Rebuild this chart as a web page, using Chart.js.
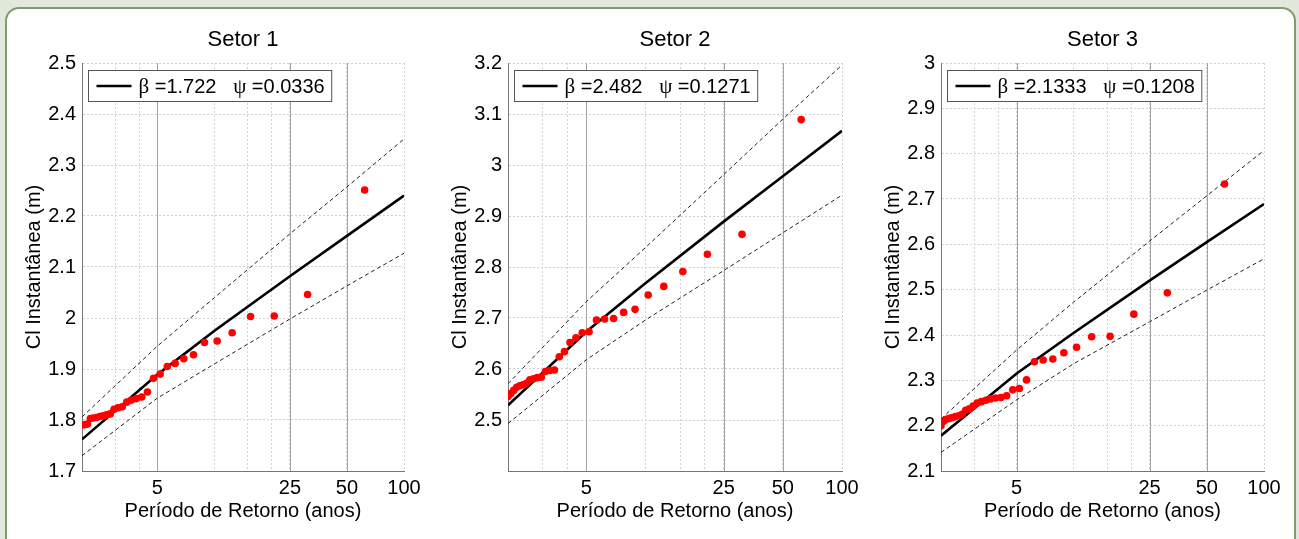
<!DOCTYPE html>
<html>
<head>
<meta charset="utf-8">
<script src="https://cdn.jsdelivr.net/npm/chart.js@4.4.1/dist/chart.umd.min.js"></script>
<style>
  html, body { margin: 0; padding: 0; }
  body { width: 1299px; height: 539px; background: #e3e8dc; position: relative; overflow: hidden; }
  #quadro { position: absolute; left: 5px; top: 7px; width: 1291px; height: 570px; background: #fff;
            border: 2px solid #7f9d6f; border-radius: 14px; box-sizing: border-box; }
  canvas { position: absolute; left: 0; top: 0; }
</style>
</head>
<body>
<div id="quadro"></div>
<canvas id="setor1" width="1299" height="539"></canvas>
<canvas id="setor2" width="1299" height="539"></canvas>
<canvas id="setor3" width="1299" height="539"></canvas>
<script>
// períodos de retorno das observações (anos)
const periodoRetorno = [62, 31, 20.67, 15.5, 12.4, 10.33, 8.857, 7.75, 6.889, 6.2, 5.636, 5.167, 4.769, 4.429,
  4.133, 3.875, 3.647, 3.444, 3.263, 3.1, 2.952, 2.818, 2.696, 2.583, 2.48, 2.385, 2.296, 2.214, 2.138, 2.067, 2.0];

// cotas observadas (m)
const obsSetor1 = [2.251, 2.046, 2.004, 2.003, 1.971, 1.955, 1.952, 1.928, 1.920, 1.911, 1.905, 1.890, 1.882, 1.855,
  1.845, 1.842, 1.839, 1.835, 1.826, 1.824, 1.821, 1.812, 1.810, 1.808, 1.807, 1.805, 1.804, 1.803, 1.792, 1.791, 1.790];
const obsSetor2 = [3.089, 2.864, 2.825, 2.791, 2.762, 2.745, 2.717, 2.711, 2.699, 2.698, 2.696, 2.673, 2.671, 2.661,
  2.652, 2.634, 2.624, 2.598, 2.597, 2.595, 2.584, 2.583, 2.581, 2.579, 2.572, 2.569, 2.567, 2.564, 2.558, 2.552, 2.546];
const obsSetor3 = [2.733, 2.493, 2.446, 2.397, 2.396, 2.373, 2.361, 2.347, 2.345, 2.341, 2.301, 2.282, 2.279, 2.266,
  2.262, 2.261, 2.259, 2.256, 2.253, 2.250, 2.243, 2.237, 2.234, 2.225, 2.222, 2.220, 2.218, 2.216, 2.214, 2.210, 2.200];

// curva ajustada e limites de confiança
const periodoAjuste = [2, 5, 10, 25, 50, 100];
const ajusteSetor1 = [1.762, 1.889, 1.975, 2.082, 2.161, 2.240];
const supSetor1 = [1.806, 1.945, 2.040, 2.165, 2.257, 2.351];
const infSetor1 = [1.730, 1.843, 1.910, 1.998, 2.063, 2.127];
const ajusteSetor2 = [2.529, 2.673, 2.768, 2.889, 2.978, 3.067];
const supSetor2 = [2.571, 2.732, 2.838, 2.981, 3.090, 3.196];
const infSetor2 = [2.493, 2.618, 2.696, 2.793, 2.867, 2.941];
const ajusteSetor3 = [2.178, 2.315, 2.405, 2.520, 2.605, 2.689];
const supSetor3 = [2.215, 2.367, 2.473, 2.607, 2.707, 2.807];
const infSetor3 = [2.141, 2.257, 2.337, 2.429, 2.499, 2.568];

// parâmetros mostrados na legenda
const betas = ["1.722", "2.482", "2.1333"];
const psis = ["0.0336", "0.1271", "0.1208"];

// eixo x
const xGrade = [3, 4, 5, 10, 15, 20, 25, 50, 100];
const xRotulos = ["", "", "5", "", "", "", "25", "50", "100"];
const xPrincipais = [5, 25, 50];

// eixos y
const yTicks1 = [1.7, 1.8, 1.9, 2.0, 2.1, 2.2, 2.3, 2.4, 2.5];
const yRotulos1 = ["1.7", "1.8", "1.9", "2", "2.1", "2.2", "2.3", "2.4", "2.5"];
const yTicks2 = [2.4, 2.5, 2.6, 2.7, 2.8, 2.9, 3.0, 3.1, 3.2];
const yRotulos2 = ["", "2.5", "2.6", "2.7", "2.8", "2.9", "3", "3.1", "3.2"];
const yTicks3 = [2.1, 2.2, 2.3, 2.4, 2.5, 2.6, 2.7, 2.8, 2.9, 3.0];
const yRotulos3 = ["2.1", "2.2", "2.3", "2.4", "2.5", "2.6", "2.7", "2.8", "2.9", "3"];

const fonte = '"Liberation Sans", Arial, sans-serif';
const fonteSimbolo = '"Liberation Serif", "Times New Roman", serif';

function pares(xs, ys) {
  return xs.map((x, i) => ({ x: x, y: ys[i] }));
}

// linhas verticais cheias em 5, 25 e 50 anos
const gradePrincipal = {
  id: "gradePrincipal",
  beforeDatasetsDraw(chart) {
    const { ctx, chartArea, scales } = chart;
    ctx.save();
    ctx.strokeStyle = "#a3a3a3";
    ctx.lineWidth = 1;
    xPrincipais.forEach(v => {
      const px = Math.round(scales.x.getPixelForValue(v)) + 0.5;
      ctx.beginPath();
      ctx.moveTo(px, chartArea.top);
      ctx.lineTo(px, chartArea.bottom);
      ctx.stroke();
    });
    ctx.restore();
  }
};

// título e legenda com símbolos gregos
const enfeites = {
  id: "enfeites",
  afterDraw(chart, args, opts) {
    const { ctx, chartArea } = chart;
    ctx.save();
    ctx.fillStyle = "#000";
    ctx.textAlign = "center";
    ctx.textBaseline = "middle";
    ctx.font = "22px " + fonte;
    ctx.fillText(opts.titulo, (chartArea.left + chartArea.right) / 2, 40);

    const partes = [
      { t: "\u03b2", f: "21px " + fonteSimbolo },
      { t: " =" + opts.beta + "   ", f: "20px " + fonte },
      { t: "\u03c8", f: "21px " + fonteSimbolo },
      { t: " =" + opts.psi, f: "20px " + fonte }
    ];
    let largura = 0;
    partes.forEach(p => {
      ctx.font = p.f;
      p.w = ctx.measureText(p.t).width;
      largura += p.w;
    });
    const x0 = Math.round(chartArea.left) + 6.5;
    const y0 = Math.round(chartArea.top) + 7.5;
    const h = 31;
    const w = 50 + largura + 7;
    ctx.fillStyle = "#fff";
    ctx.fillRect(x0, y0, w, h);
    ctx.strokeStyle = "#555";
    ctx.lineWidth = 1;
    ctx.strokeRect(x0, y0, w, h);
    ctx.beginPath();
    ctx.moveTo(x0 + 8, y0 + h / 2);
    ctx.lineTo(x0 + 43, y0 + h / 2);
    ctx.strokeStyle = "#000";
    ctx.lineWidth = 2.5;
    ctx.stroke();
    ctx.fillStyle = "#000";
    ctx.textAlign = "left";
    let x = x0 + 50;
    partes.forEach(p => {
      ctx.font = p.f;
      ctx.fillText(p.t, x, y0 + h / 2 + 1);
      x += p.w;
    });
    ctx.restore();
  }
};

function criarGrafico(id, cfg) {
  const ctx = document.getElementById(id).getContext("2d");
  return new Chart(ctx, {
    type: "scatter",
    data: {
      datasets: [
        {
          label: "Observado",
          data: pares(periodoRetorno, cfg.obs),
          backgroundColor: "#ff0000",
          borderWidth: 0,
          pointRadius: 3.8
        },
        {
          label: "Ajuste",
          data: pares(periodoAjuste, cfg.ajuste),
          showLine: true,
          borderColor: "#000",
          borderWidth: 2.6,
          pointRadius: 0,
          tension: 0
        },
        {
          label: "Limite superior",
          data: pares(periodoAjuste, cfg.sup),
          showLine: true,
          borderColor: "#222",
          borderWidth: 1,
          borderDash: [4, 3],
          pointRadius: 0,
          tension: 0
        },
        {
          label: "Limite inferior",
          data: pares(periodoAjuste, cfg.inf),
          showLine: true,
          borderColor: "#222",
          borderWidth: 1,
          borderDash: [4, 3],
          pointRadius: 0,
          tension: 0
        }
      ]
    },
    options: {
      responsive: false,
      animation: false,
      devicePixelRatio: 1,
      layout: {
        padding: { left: cfg.esquerda - 60, right: 1299 - cfg.direita, top: 63, bottom: 10 }
      },
      plugins: {
        legend: { display: false },
        tooltip: { enabled: false },
        enfeites: { titulo: cfg.titulo, beta: cfg.beta, psi: cfg.psi }
      },
      scales: {
        x: {
          type: "logarithmic",
          min: 2,
          max: 100,
          afterBuildTicks: scale => { scale.ticks = xGrade.map(v => ({ value: v })); },
          afterFit: scale => { scale.height = 58; },
          ticks: {
            autoSkip: false,
            maxRotation: 0,
            padding: 5,
            color: "#000",
            font: { family: fonte, size: 20 },
            callback: (v, i) => xRotulos[i]
          },
          grid: { color: "#d3d3d3", drawTicks: false },
          border: { color: "#777", width: 1, dash: [2, 2] },
          title: {
            display: true,
            text: "Período de Retorno (anos)",
            color: "#000",
            font: { family: fonte, size: 20 },
            padding: { top: 0, bottom: 6 }
          }
        },
        y: {
          min: cfg.yTicks[0],
          max: cfg.yTicks[cfg.yTicks.length - 1],
          afterBuildTicks: scale => { scale.ticks = cfg.yTicks.map(v => ({ value: v })); },
          afterFit: scale => { scale.width = 60; },
          ticks: {
            padding: 6,
            color: "#000",
            font: { family: fonte, size: 20 },
            callback: (v, i) => cfg.yRotulos[i]
          },
          grid: { color: "#d3d3d3", drawTicks: false },
          border: { color: "#777", width: 1, dash: [2, 2] },
          title: {
            display: true,
            text: "Cl Instantânea (m)",
            color: "#000",
            font: { family: fonte, size: 20 },
            padding: { top: 0, bottom: 0 }
          }
        }
      }
    },
    plugins: [gradePrincipal, enfeites]
  });
}

criarGrafico("setor1", {
  titulo: "Setor 1", beta: betas[0], psi: psis[0],
  obs: obsSetor1, ajuste: ajusteSetor1, sup: supSetor1, inf: infSetor1,
  yTicks: yTicks1, yRotulos: yRotulos1, esquerda: 82, direita: 404
});
criarGrafico("setor2", {
  titulo: "Setor 2", beta: betas[1], psi: psis[1],
  obs: obsSetor2, ajuste: ajusteSetor2, sup: supSetor2, inf: infSetor2,
  yTicks: yTicks2, yRotulos: yRotulos2, esquerda: 508, direita: 842
});
criarGrafico("setor3", {
  titulo: "Setor 3", beta: betas[2], psi: psis[2],
  obs: obsSetor3, ajuste: ajusteSetor3, sup: supSetor3, inf: infSetor3,
  yTicks: yTicks3, yRotulos: yRotulos3, esquerda: 941, direita: 1264
});
</script>
</body>
</html>
